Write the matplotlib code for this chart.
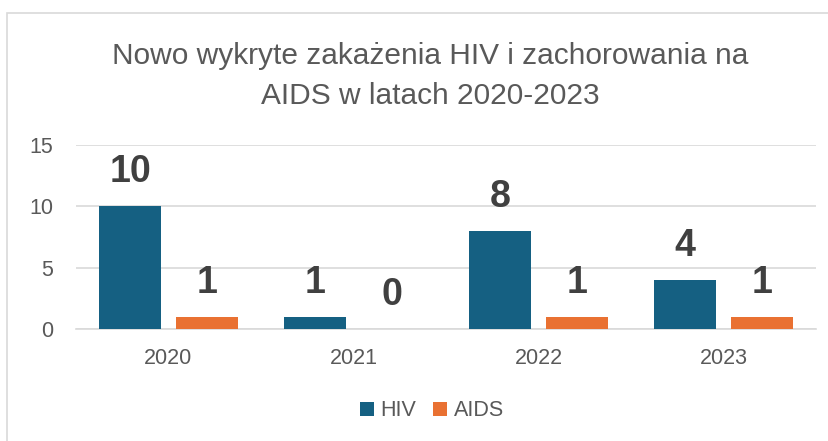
import matplotlib.pyplot as plt
import matplotlib.patches as patches
import numpy as np

years = ['2020', '2021', '2022', '2023']
hiv = [10, 1, 8, 4]
aids = [1, 0, 1, 1]

plt.rcParams['font.family'] = ['Liberation Sans', 'DejaVu Sans']

fig = plt.figure(figsize=(8.29, 4.41), dpi=100)
ax = fig.add_axes([76 / 829, 112 / 441, 740 / 829, 184 / 441])

# outer chart frame
fig.patches.append(patches.Rectangle((7 / 829, -0.1), 1.0, (441 - 13) / 441 + 0.1,
                                     transform=fig.transFigure, fill=False,
                                     edgecolor='#d9d9d9', linewidth=1.2))

x = np.arange(len(years))
w = 0.33
off = 0.208
b1 = ax.bar(x - off, hiv, w, color='#156082', label='HIV', zorder=3)
b2 = ax.bar(x + off, aids, w, color='#E97132', label='AIDS', zorder=3)

for bars, vals in ((b1, hiv), (b2, aids)):
    for b, v in zip(bars, vals):
        ax.annotate(str(v), (b.get_x() + b.get_width() / 2, v),
                    xytext=(0, 17.3), textcoords='offset points',
                    ha='center', va='baseline', fontsize=27,
                    fontweight='bold', color='#404040')

ax.set_xlim(-0.5, 3.5)
ax.set_ylim(0, 15)
ax.set_yticks([0, 5, 10, 15])
ax.set_xticks(x)
ax.set_xticklabels(years)
ax.tick_params(axis='both', length=0, labelsize=15.5, labelcolor='#595959')
ax.tick_params(axis='y', pad=16.5)
ax.tick_params(axis='x', pad=14)
ax.grid(axis='y', color='#d9d9d9', linewidth=1.2, zorder=0)
for s in ['top', 'right', 'left']:
    ax.spines[s].set_visible(False)
ax.spines['bottom'].set_color('#d9d9d9')
ax.spines['bottom'].set_linewidth(1.2)

fig.text(430 / 829, 1 - 76 / 441,
         'Nowo wykryte zakażenia HIV i zachorowania na\nAIDS w latach 2020-2023',
         ha='center', va='center', fontsize=21.5, color='#595959', linespacing=1.5)

fig.legend(handles=[b1, b2], loc='center', bbox_to_anchor=(432 / 829, 1 - 411 / 441),
           ncol=2, frameon=False, fontsize=15.5, labelcolor='#595959',
           handlelength=0.65, handleheight=0.65, handletextpad=0.3, columnspacing=0.8)

fig.savefig('out.png', dpi=100)
